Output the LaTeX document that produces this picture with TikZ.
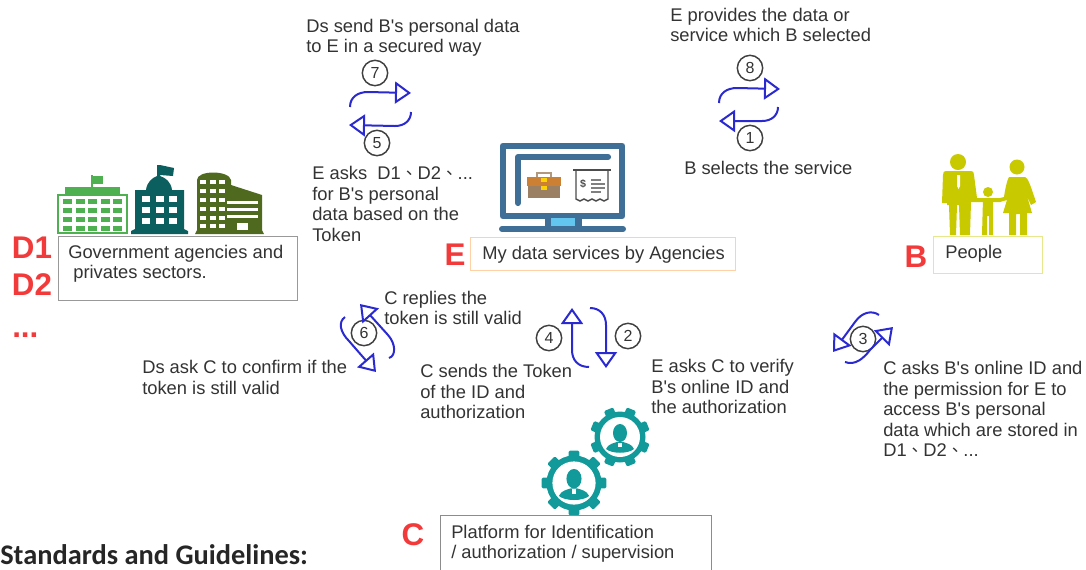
\documentclass[tikz,border=0pt]{standalone}
\usepackage{fontspec}
\defaultfontfeatures[\rmfamily]{}
\setmainfont{Liberation Sans}
\newfontfamily\cjkf{Noto Sans CJK TC}
\newfontfamily\carl{Carlito}
\usetikzlibrary{arrows.meta}
\definecolor{txt}{HTML}{333333}
\definecolor{flow}{HTML}{2A2AD0}
\definecolor{redl}{HTML}{F23A3A}
\definecolor{gearc}{HTML}{12999A}
\definecolor{mon}{HTML}{3F6F97}
\definecolor{monb}{HTML}{62C6EE}
\definecolor{ppl}{HTML}{C9C900}
\definecolor{bgreen}{HTML}{4FB052}
\definecolor{bteal}{HTML}{0B5F5E}
\definecolor{bolive}{HTML}{4F6A1E}
\newcommand{\dun}{{\cjkf\fontsize{12.5}{13}\selectfont 、}}
\tikzset{
  x=0.75pt,y=-0.75pt,
  lab/.style={anchor=west,inner sep=0pt,align=left,text=txt,font=\fontsize{13.75}{15.3}\selectfont},
  boxlab/.style={lab},
  num/.style={circle,draw=black!75,line width=1.1pt,minimum size=19pt,inner sep=0pt,text=txt,font=\fontsize{12}{13}\selectfont},
  flowarrow/.style={draw=flow,line width=1.5pt,-{Triangle[open,length=12pt,width=16.5pt,line width=1.5pt]}},
  redlab/.style={anchor=center,inner sep=0pt,text=redl,font=\fontsize{23.5}{25}\selectfont\bfseries},
  box/.style={draw=#1,line width=0.8pt,fill=white}
}
\begin{document}
\begin{tikzpicture}
\useasboundingbox (0,0) rectangle (1086,569);
\clip (0,0) rectangle (1086,569);
\fill[white] (0,0) rectangle (1086,569);

% ---- green building
\fill[bgreen] (65,187) rectangle (120,195);
\fill[bgreen] (91,175) rectangle (93,187);
\fill[bgreen] (93,176) rectangle (103,184);
\draw[bgreen,line width=1.7pt] (58,195) rectangle (127,233);
\foreach \yy in {199,208,217,226} \foreach \xx in {63,76,88,101,113}
  \fill[bgreen] (\xx,\yy) rectangle +(9,5);
% ---- teal building
\fill[bteal] (135,190) -- (146,190) .. controls (147,182) and (152,178) .. (157,176) -- (157,165) -- (160,165) -- (174,168) -- (173,176) -- (160,175) -- (160,176) .. controls (166,178) and (171,182) .. (172,190) -- (184,190) -- (184,229) -- (188,231) -- (188,234) -- (131,234) -- (131,231) -- (135,229) -- cycle;
\foreach \yy in {196,207,218} \foreach \xx in {142,156,169}
  \fill[white] (\xx,\yy) rectangle +(8,6);
% ---- olive building
\fill[bolive] (197,180) .. controls (197,170) and (229,170) .. (231,180) -- (231,185) -- (262,195) -- (262,230) -- (264,234) -- (195,234) -- (197,230) -- cycle;
\foreach \yy in {180,189,198,207,216,224} \foreach \xx in {200,210,219}
  \fill[white] (\xx,\yy) rectangle +(6,3.5);
\foreach \yy in {201,208,215} \fill[white] (227,\yy) rectangle (258,\yy+3);
\fill[white] (237,223) rectangle (248,230);

% ---- monitor
\draw[mon,line width=5pt,line join=round] (503,146) rectangle (622,216);
\draw[mon,line width=4.6pt,line cap=round,line join=round] (518,203) -- (518,157) -- (608,157);
\fill[mon] (545,218) rectangle (582,227);
\fill[monb] (551,218) rectangle (575,226);
\draw[mon,line width=4.5pt,line cap=round] (502,229) -- (623,229);
% briefcase
\draw[black!35!brown!60,line width=1.2pt] (537,173) rectangle (551,178);
\fill[brown!80!orange] (527,177) rectangle (561,186);
\fill[brown!45!gray] (528,186) rectangle (560,198);
\fill[yellow!70!orange] (541,178) rectangle (547,182);
\fill[yellow!70!orange] (541,186) rectangle (547,190);
% receipt
\draw[black!70,line width=1pt] (573,170) -- (611,170);
\draw[black!70,line width=1.1pt] (576,170) -- (576,199) -- (580,201) -- (584,199) -- (588,201) -- (592,199) -- (596,201) -- (600,199) -- (604,201) -- (608,199) -- (608,170);
\node[inner sep=0pt,text=black!70,font=\fontsize{8}{9}\selectfont\bfseries] (dollar) at (583,184) {\$};
\draw[black!50,line width=0.9pt] (591,180) -- (601,180) (591,184) -- (605,184) (591,188) -- (605,188) (591,192) -- (601,192);

% ---- people
\fill[ppl] (958,162) circle (8);
\fill[ppl] (946,171) -- (971,171) .. controls (973,171) and (974,172) .. (974,175) -- (977,198) -- (1000,198) -- (1000,202) -- (977,202) -- (971,202) -- (970,235) -- (960,235) -- (959,205) -- (957,205) -- (956,235) -- (950,235) -- (949,205) -- (947,205) -- (947,203) -- (942,203) -- (943,175) .. controls (943,172) and (944,171) .. (946,171) -- cycle;
\fill[white] (957,175) -- (960,175) -- (960,186) -- (958.5,189) -- (957,186) -- cycle;
\fill[ppl] (988,192) circle (5);
\fill[ppl] (983,198) -- (993,198) -- (993,235) -- (989,235) -- (989,216) -- (987,216) -- (987,235) -- (982,235) -- cycle;
\fill[ppl] (1017,167) circle (7.5);
\fill[ppl] (1009,177) -- (1025,177) .. controls (1028,178) and (1030,184) .. (1036,202) -- (1031,205) -- (1027,196) -- (1032,213) -- (1027,213) -- (1027,235) -- (1020,235) -- (1020,214) -- (1016,214) -- (1016,235) -- (1009,235) -- (1009,213) -- (1003,213) -- (1007,200) -- (1000,202) -- (1000,198) -- (1004,197) .. controls (1005,190) and (1007,180) .. (1009,177) -- cycle;

% ---- gears
\foreach \gx/\gy/\gr/\gs in {620/437/1/22.5,574/483/1.08/0}{
  \begin{scope}[shift={(\gx,\gy)},scale=\gr]
    \foreach \a in {0,45,...,315}
      \fill[gearc,rotate=\a+\gs,rounded corners=1pt] (-5,-30) rectangle (5,-20);
    \fill[gearc] (0,0) circle (25.5);
    \fill[white] (0,0) circle (20);
    \fill[gearc] (0,-4) ellipse [x radius=7,y radius=9];
    \fill[gearc] (-14,12) .. controls (-12,7) and (-6,6) .. (-3,5) -- (3,5) .. controls (6,6) and (12,7) .. (14,12) .. controls (8,17) and (-8,17) .. (-14,12) -- cycle;
    \fill[white] (-2,6) rectangle (2,10);
  \end{scope}
}

% ---- boxes
\node[box=black!40,anchor=north west,inner sep=0pt,minimum width=179pt,minimum height=48pt] (dbox) at (58,236) {};
\node[box=orange!35,anchor=north west,inner sep=0pt,minimum width=199pt,minimum height=25pt] (ebox) at (470,237) {};
\node[box=ppl!45,anchor=north west,inner sep=0pt,minimum width=82pt,minimum height=28pt] (bbox) at (933,236) {};
\node[box=black!45,anchor=north west,inner sep=0pt,minimum width=203pt,minimum height=60pt] (cbox) at (440,515) {};

\node[boxlab] (dtext) at (68,264) {Government agencies and\\\ privates sectors.};
\node[boxlab] (etext) at (482,254.5) {My data services by Agencies};
\node[boxlab] (btext) at (945,253.5) {People};
\node[boxlab] (ctext) at (451,543.5) {Platform for Identification\\/ authorization / supervision};

% ---- red labels
\node[redlab] (d1) at (32,248) {D1};
\node[redlab] (d2) at (32,285) {D2};
\node[redlab,anchor=base west] (dots) at (12,337) {...};
\node[redlab] (e) at (455,255) {E};
\node[redlab] (b) at (916,257) {B};
\node[redlab] (c) at (413,535) {C};

% ---- labels
\node[lab] (t7) at (306,37.5) {Ds send B's personal data\\to E in a secured way};
\node[lab] (t8) at (670,25) {E provides the data or\\service which B selected};
\node[lab] (t1) at (684,168) {B selects the service};
\node[lab] (t5) at (312,204) {E asks \ D1\dun D2\dun ...\\for B's personal\\data based on the\\Token};
\node[lab] (t6a) at (384,308) {C replies the\\token is still valid};
\node[lab] (t6b) at (142,377.5) {Ds ask C to confirm if the\\token is still valid};
\node[lab] (t4) at (420,391.5) {C sends the Token\\of the ID and\\authorization};
\node[lab] (t2) at (651,386.5) {E asks C to verify\\B's online ID and\\the authorization};
\node[lab] (t3) at (883,409) {C asks B's online ID and\\the permission for E to\\access B's personal\\data which are stored in\\D1\dun D2\dun ...};

% ---- numbered circles
\node[num] (n7) at (375,73) {7};
\node[num] (n5) at (377,143) {5};
\node[num] (n8) at (750,68) {8};
\node[num] (n1) at (750,138) {1};
\node[num] (n4) at (549,338) {4};
\node[num] (n2) at (628,336) {2};
\node[num] (n6) at (364,333) {6};
\node[num] (n3) at (863,339) {3};

% ---- flow arrows
\coordinate (a7s) at (350,107); \coordinate (a7e) at (411,93);
\coordinate (a5s) at (411,112); \coordinate (a5e) at (349,125);
\coordinate (a8s) at (719,103); \coordinate (a8e) at (780,89);
\coordinate (a1s) at (778,107); \coordinate (a1e) at (719,121);
\coordinate (a4s) at (589,367); \coordinate (a4e) at (572,308);
\coordinate (a2s) at (590,308); \coordinate (a2e) at (606,368);
\coordinate (a6as) at (389,358); \coordinate (a6ae) at (360,304);
\coordinate (a6bs) at (345,317); \coordinate (a6be) at (376,372);
\coordinate (a3as) at (879,315); \coordinate (a3ae) at (833,352);
\coordinate (a3bs) at (845,362); \coordinate (a3be) at (893,327);

\draw[flowarrow] (a7s) .. controls (350,97) and (358,92) .. (368,92) -- (a7e);
\draw[flowarrow] (a5s) .. controls (411,120) and (405,126) .. (395,126) -- (a5e);
\draw[flowarrow] (a8s) .. controls (719,93) and (727,88) .. (737,88) -- (a8e);
\draw[flowarrow] (a1s) .. controls (778,115) and (772,121) .. (762,121) -- (a1e);
\draw[flowarrow] (a4s) .. controls (578,367) and (572,360) .. (572,350) -- (a4e);
\draw[flowarrow] (a2s) .. controls (600,308) and (606,315) .. (606,325) -- (a2e);
\draw[flowarrow] (a6as) .. controls (396,356) and (396,344) .. (388,335) -- (a6ae);
\draw[flowarrow] (a6bs) .. controls (338,322) and (340,332) .. (349,341) -- (a6be);
\draw[flowarrow] (a3as) .. controls (872,310) and (862,312) .. (855,322) -- (a3ae);
\draw[flowarrow] (a3bs) .. controls (855,366) and (864,358) .. (870,350) -- (a3be);

% ---- bottom text
\node[anchor=base west,inner sep=0pt,text=black!85,font=\carl\fontsize{21.3}{23}\selectfont\bfseries] (std) at (0,564) {Standards and Guidelines:};
\end{tikzpicture}
\end{document}
